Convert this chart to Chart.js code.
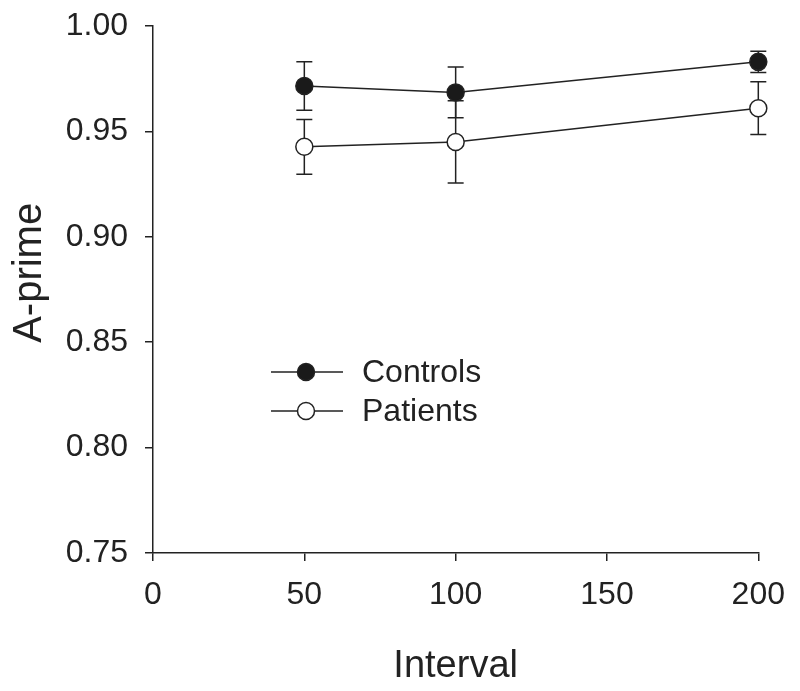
<!DOCTYPE html>
<html>
<head>
<meta charset="utf-8">
<script src="https://cdn.jsdelivr.net/npm/chart.js@4"></script>
<style>
  body { margin: 0; background: #fff; }
  canvas { display: block; }
</style>
</head>
<body>
<canvas id="chart" width="800" height="691"></canvas>
<script>
const intervals = [50, 100, 200];
const controlsMean = [0.9715, 0.9685, 0.983];
const controlsErr = [0.0115, 0.012, 0.005];
const patientsMean = [0.9427, 0.945, 0.961];
const patientsErr = [0.013, 0.0195, 0.0125];
const seriesNames = ["Controls", "Patients"];

const ink = "#222";
const font = "'Liberation Sans', Arial, sans-serif";

// error bars drawn under the markers
const errorBars = {
  id: "errorBars",
  beforeDatasetsDraw(chart) {
    const ctx = chart.ctx;
    const x = chart.scales.x, y = chart.scales.y;
    ctx.save();
    ctx.strokeStyle = ink;
    ctx.lineWidth = 1.5;
    chart.data.datasets.forEach((ds) => {
      ds.data.forEach((p, i) => {
        const px = x.getPixelForValue(p.x);
        const top = y.getPixelForValue(p.y + ds.err[i]);
        const bot = y.getPixelForValue(p.y - ds.err[i]);
        ctx.beginPath();
        ctx.moveTo(px, top); ctx.lineTo(px, bot);
        ctx.moveTo(px - 8, top); ctx.lineTo(px + 8, top);
        ctx.moveTo(px - 8, bot); ctx.lineTo(px + 8, bot);
        ctx.stroke();
      });
    });
    ctx.restore();
  }
};

// legend sitting inside the plot area
const insideLegend = {
  id: "insideLegend",
  afterDraw(chart) {
    const ctx = chart.ctx;
    const rows = [372, 411];
    ctx.save();
    chart.data.datasets.forEach((ds, i) => {
      const yy = rows[i];
      ctx.strokeStyle = ink;
      ctx.lineWidth = 1.5;
      ctx.beginPath();
      ctx.moveTo(271, yy); ctx.lineTo(343, yy);
      ctx.stroke();
      ctx.beginPath();
      ctx.arc(306, yy, 8.5, 0, Math.PI * 2);
      ctx.fillStyle = ds.pointBackgroundColor;
      ctx.fill();
      ctx.stroke();
      ctx.fillStyle = ink;
      ctx.font = "32px " + font;
      ctx.textBaseline = "middle";
      ctx.textAlign = "left";
      ctx.fillText(ds.label, 362, yy + 1);
    });
    ctx.restore();
  }
};

const ctx = document.getElementById("chart").getContext("2d");
new Chart(ctx, {
  type: "line",
  data: {
    datasets: [
      {
        label: seriesNames[0],
        data: intervals.map((v, i) => ({ x: v, y: controlsMean[i] })),
        err: controlsErr,
        borderColor: ink,
        borderWidth: 1.5,
        pointRadius: 8.5,
        pointBackgroundColor: "#1a1a1a",
        pointBorderColor: ink,
        pointBorderWidth: 1.5,
        tension: 0,
        clip: false,
      },
      {
        label: seriesNames[1],
        data: intervals.map((v, i) => ({ x: v, y: patientsMean[i] })),
        err: patientsErr,
        borderColor: ink,
        borderWidth: 1.5,
        pointRadius: 8.5,
        pointBackgroundColor: "#ffffff",
        pointBorderColor: ink,
        pointBorderWidth: 1.5,
        tension: 0,
        clip: false,
      },
    ],
  },
  options: {
    responsive: false,
    animation: false,
    layout: { padding: { top: 26, right: 38, left: 0, bottom: 0 } },
    plugins: {
      legend: { display: false },
      tooltip: { enabled: false },
    },
    scales: {
      x: {
        type: "linear",
        min: 0,
        max: 200,
        ticks: { stepSize: 50, color: ink, padding: 15, font: { family: font, size: 32 } },
        grid: { drawOnChartArea: false, tickLength: 8, color: ink, lineWidth: 1.5 },
        border: { color: ink, width: 1.5 },
        title: { display: true, text: "Interval", color: ink, padding: { top: 0, bottom: 2 }, font: { family: font, size: 38 } },
        afterFit(scale) { scale.height = 138; },
      },
      y: {
        min: 0.75,
        max: 1.0,
        ticks: {
          stepSize: 0.05,
          color: ink,
          padding: 17,
          font: { family: font, size: 32 },
          callback: (v) => v.toFixed(2),
        },
        grid: { drawOnChartArea: false, tickLength: 8, color: ink, lineWidth: 1.5 },
        border: { color: ink, width: 1.5 },
        title: { display: true, text: "   A-prime", color: ink, padding: { top: 6, bottom: 0 }, font: { family: font, size: 40 } },
        afterFit(scale) {
          scale.width = 153;
          scale.paddingTop = 0;
          scale.paddingBottom = 0;
        },
      },
    },
  },
  plugins: [errorBars, insideLegend],
});
</script>
</body>
</html>
